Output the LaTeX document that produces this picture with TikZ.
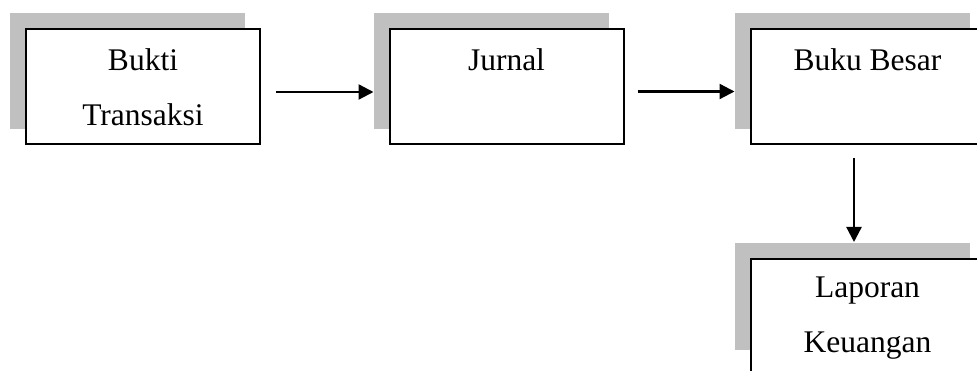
\documentclass[tikz,border=0pt]{standalone}
\usepackage{fontspec}
\setmainfont{Liberation Serif}
\usetikzlibrary{arrows.meta}
\definecolor{shadowgray}{HTML}{C0C0C0}
\begin{document}
\begin{tikzpicture}[x=1pt,y=-1pt,
  box/.style={draw=black, line width=2pt, fill=white, minimum width=234pt, minimum height=115pt, inner sep=0pt},
  lbl/.style={anchor=north, inner sep=0pt, align=center, font=\fontsize{31.5}{55}\selectfont},
  shade/.style={fill=shadowgray},
  arr/.style={line width=2.3pt, -{Triangle[length=15pt,width=15pt]}}]
\useasboundingbox (0,0) rectangle (977,371);
\clip (0,0) rectangle (977,371);
% shadows
\fill[shade] (10,13) rectangle (245,129);
\fill[shade] (374,13) rectangle (609,129);
\fill[shade] (735,13) rectangle (970,129);
\fill[shade] (735,243) rectangle (970,350);
% boxes
\node[box] (b1) at (143,86.5) {};
\node[box] (b2) at (506.5,86.5) {};
\node[box] (b3) at (867.5,86.5) {};
\node[box] (b4) at (867.5,316.5) {};
% labels
\node[lbl] (t1) at (143,48.5) {Bukti\\Transaksi};
\node[lbl] (t2) at (506.5,48.5) {Jurnal};
\node[lbl] (t3) at (867.5,48.5) {Buku Besar};
\node[lbl] (t4) at (867.5,276.5) {Laporan\\Keuangan};
% connectors
\draw[arr] ([xshift=15pt,yshift=-5.5pt]b1.east) -- ([xshift=-15pt,yshift=-5.5pt]b2.west);
\draw[arr] ([xshift=13pt,yshift=-5pt]b2.east) -- ([xshift=-15pt,yshift=-5pt]b3.west);
\draw[arr] ([xshift=-13.5pt,yshift=-13pt]b3.south) -- ([xshift=-13.5pt,yshift=16pt]b4.north);
\end{tikzpicture}
\end{document}
